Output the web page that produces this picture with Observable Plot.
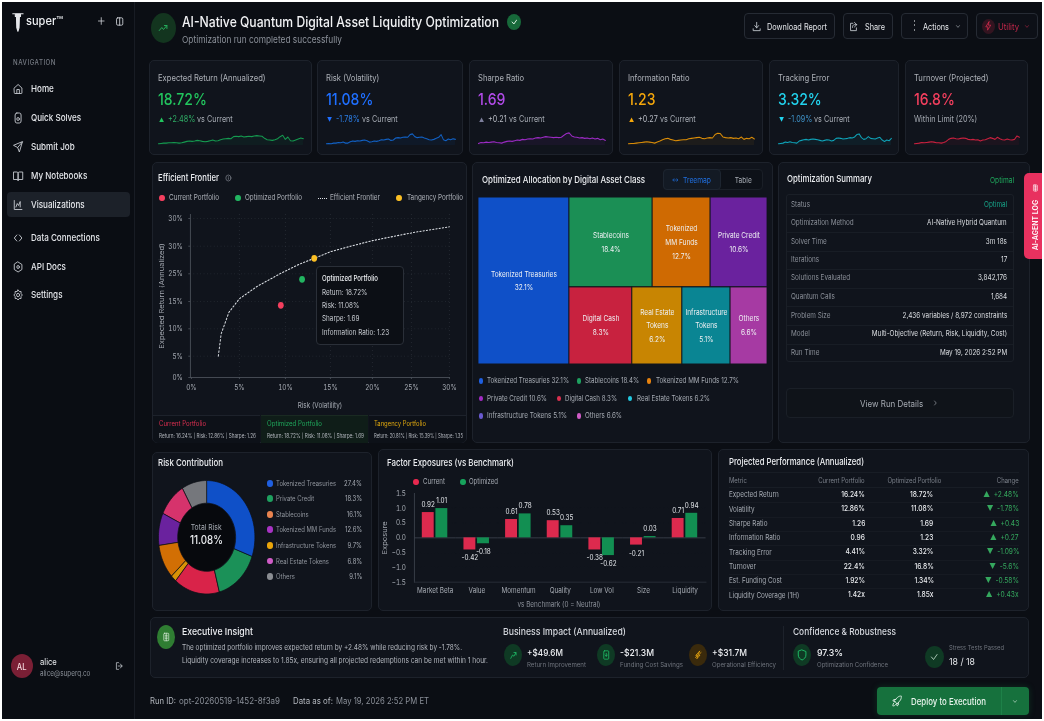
<!DOCTYPE html>
<html><head><meta charset="utf-8">
<style>
html,body{margin:0;padding:0;background:#fff;width:1044px;height:721px;overflow:hidden}
#page{position:absolute;left:0;top:0;width:1044px;height:721px;overflow:hidden;font-family:Inter,"Noto Sans",sans-serif;filter:blur(.45px)}
#page span,#page div,#page svg{position:absolute}
#page span{white-space:nowrap;line-height:1}
</style>
<script src="https://cdn.jsdelivr.net/npm/d3@7"></script>
<script src="https://cdn.jsdelivr.net/npm/@observablehq/plot@0.6"></script>
</head><body><div id="page"></div>
<script>
/* ---------- data ---------- */
const navItems = ["Home","Quick Solves","Submit Job","My Notebooks","Visualizations","Data Connections","API Docs","Settings"];
const kpiTitles = ["Expected Return (Annualized)","Risk (Volatility)","Sharpe Ratio","Information Ratio","Tracking Error","Turnover (Projected)"];
const kpiValues = ["18.72%","11.08%","1.69","1.23","3.32%","16.8%"];
const kpiDeltas = ["+2.48%","-1.78%","+0.21","+0.27","-1.09%",""];
const kpiNotes = ["vs Current","vs Current","vs Current","vs Current","vs Current","Within Limit (20%)"];
const kpiMarks = ["▲","▼","▲","▲","▼",""];
const sparkReturn = [1,2,3,3,4,4,5,4,3,4,6,8,9,8,9,11,10,8,7,8,10,12,9,10,13,15,16,17,16,22,23,22,24,21,22,23,22,24,25,24,23,17,13,12,11,13,16,22,26,14,21,10,9,12,15,18,16];
const sparkRisk = [1,2,1,3,3,5,4,6,3,3,7,9,8,10,9,11,12,10,6,7,9,8,10,13,12,14,15,11,12,18,19,18,20,21,20,28,30,22,19,20,21,18,16,13,12,14,17,20,28,13,10,15,13,16,14];
const sparkSharpe = [2,5,4,6,5,6,7,5,4,3,6,8,9,8,10,12,11,14,13,15,16,15,18,19,18,20,22,21,20,19,20,19,20,26,31,33,24,21,20,18,19,17,18,16,18,15,17,13,15,11];
const sparkInfo = [1,2,2,3,4,5,6,7,6,5,3,6,9,13,16,17,14,12,10,11,12,13,13,16,17,18,19,20,17,16,18,19,18,28,32,31,21,19,18,19,17,18,16,21,14,17,16,20,15];
const sparkTracking = [1,2,3,6,5,7,5,4,3,9,11,13,14,12,14,15,14,13,11,9,11,13,12,9,11,17,18,17,15,16,17,19,18,21,28,30,19,14,16,22,17,16,15,18,20,12,8,12,10,17];
const sparkTurnover = [1,2,3,5,4,5,6,7,6,4,4,3,5,8,14,17,18,16,15,17,18,17,14,13,14,12,13,9,12,13,16,19,17,14,20,16,13,12,15,13,12,14,24,20];

const frontierRisk = [2.8,3.1,3.9,5,6.9,9.4,11.5,13.2,15,17.4,20,22.8,25.8,30];
const frontierReturn = [5,9.1,13,15.5,17.7,20,21.7,22.8,24,25,26,26.8,27.6,28.5];
const portfolioNames = ["Current Portfolio","Optimized Portfolio","Tangency Portfolio"];
const portfolioRisk = [9.5,11.85,13.2];
const portfolioReturn = [14.3,19,22.8];
const portfolioStats = ["Return: 16.24% | Risk: 12.86% | Sharpe: 1.26","Return: 18.72% | Risk: 11.08% | Sharpe: 1.69","Return: 20.81% | Risk: 15.39% | Sharpe: 1.35"];
const frontierTicks = [0,5,10,15,20,25,30];
const frontierYLabels = ["0%","5%","10%","15%","25%","30%","30%"];

const allocNames = ["Tokenized Treasuries","Stablecoins","Tokenized MM Funds","Private Credit","Digital Cash","Real Estate Tokens","Infrastructure Tokens","Others"];
const allocLabels = ["Tokenized Treasuries","Stablecoins","Tokenized\nMM Funds","Private Credit","Digital Cash","Real Estate\nTokens","Infrastructure\nTokens","Others"];
const allocValues = [32.1,18.4,12.7,10.6,8.3,6.2,5.1,6.6];
const allocDrawnArea = [31.5,15.5,10.8,10.6,10.05,8,7.7,5.9];   // cell area as it appears in the picture, %
const allocFills = ["#0f50c8","#1b8f55","#cf6a02","#6a229e","#c8223f","#c88502","#0a8593","#a63aa3"];

const riskNames = ["Tokenized Treasuries","Private Credit","Stablecoins","Tokenized MM Funds","Infrastructure Tokens","Real Estate Tokens","Others"];
const riskValues = ["27.4%","18.3%","16.1%","12.6%","9.7%","6.8%","9.1%"];
const riskDots = ["#1f5fe0","#1ea05f","#e8834f","#a833c4","#eaa50a","#cf5cc6","#8a8d92"];
const ringShares = [30.6,15.3,15.3,1.9,9.7,9.2,9.7,8.3];   // slice sizes as drawn, %
const ringFills = ["#0f50c8","#1b9158","#d92349","#d99206","#d26f04","#6a229e","#d6336c","#75777c"];

const factors = ["Market Beta","Value","Momentum","Quality","Low Vol","Size","Liquidity"];
const factorCurrentBar = [0.855,-0.41,0.62,0.58,-0.41,-0.245,0.655];
const factorOptimizedBar = [0.99,-0.2,0.81,0.41,-0.6,0.045,0.83];
const factorCurrentLabel = ["0.92","-0.42","0.61","0.53","-0.38","-0.21","0.71"];
const factorOptimizedLabel = ["1.01","-0.18","0.78","0.35","-0.62","0.03","0.94"];

const summaryKeys = ["Status","Optimization Method","Solver Time","Iterations","Solutions Evaluated","Quantum Calls","Problem Size","Model","Run Time"];
const summaryVals = ["Optimal","AI-Native Hybrid Quantum","3m 18s","17","3,842,176","1,684","2,436 variables / 8,972 constraints","Multi-Objective (Return, Risk, Liquidity, Cost)","May 19, 2026 2:52 PM"];

const perfMetrics = ["Expected Return","Volatility","Sharpe Ratio","Information Ratio","Tracking Error","Turnover","Est. Funding Cost","Liquidity Coverage (1H)"];
const perfCurrent = ["16.24%","12.86%","1.26","0.96","4.41%","22.4%","1.92%","1.42x"];
const perfOptimized = ["18.72%","11.08%","1.69","1.23","3.32%","16.8%","1.34%","1.85x"];
const perfChange = ["▲\u00a0\u00a0+2.48%","▼\u00a0\u00a0-1.78%","▲\u00a0\u00a0+0.43","▲\u00a0\u00a0+0.27","▼\u00a0\u00a0-1.09%","▼\u00a0\u00a0-5.6%","▼\u00a0\u00a0-0.58%","▲\u00a0\u00a0+0.43x"];

/* ---------- layout helpers ---------- */
const K = 0.85;               // the picture is narrower than it is tall
const page = document.getElementById("page");
const FG = "#eceef1", MUTED = "#8b9099", CARD = "#10141c", LINE = "#1d222b";
function box(x,y,w,h,css=""){const d=document.createElement("div");
  d.style.cssText=`left:${x}px;top:${y}px;width:${w}px;height:${h}px;box-sizing:border-box;${css}`;page.append(d);return d;}
function card(x,y,w,h,css=""){return box(x,y,w,h,`background:${CARD};border:1px solid ${LINE};border-radius:5px;${css}`);}
function T(x,y,s,o={}){const {size=8,color="#d5d8de",w=null,a="l",weight=400,ls=0}=o;
  const e=document.createElement("span");e.textContent=s;
  e.style.cssText=`font-size:${size}px;color:${color};font-weight:${weight};letter-spacing:${ls}px;top:${y-size/2}px;left:0`;
  page.append(e);const ow=e.getBoundingClientRect().width;const sc=w?w/ow:K;
  const left=a=="l"?x:a=="r"?x-ow:x-ow/2;
  e.style.left=left+"px";e.style.transformOrigin=a=="l"?"left center":a=="r"?"right center":"center center";
  e.style.transform=`scaleX(${sc})`;return e;}
function I(cx,cy,size,paths,color="#c8ccd2",sw=2){
  const n="http://www.w3.org/2000/svg",s=document.createElementNS(n,"svg");
  s.setAttribute("viewBox","0 0 24 24");s.setAttribute("preserveAspectRatio","none");
  s.setAttribute("width",size*K);s.setAttribute("height",size);
  s.style.cssText=`left:${cx-size*K/2}px;top:${cy-size/2}px;fill:none;stroke:${color};stroke-width:${sw};stroke-linecap:round;stroke-linejoin:round`;
  s.innerHTML=paths;page.append(s);return s;}
function ell(cx,cy,rx,ry,color,css=""){return box(cx-rx,cy-ry,rx*2,ry*2,`background:${color};border-radius:50%;${css}`);}
function place(make,x,y,w,h,fs=7){const p=make(w/K,h);
  p.style.cssText=`left:${x}px;top:${y}px;width:${w/K}px;height:${h}px;max-width:none;transform:scaleX(${K});transform-origin:0 0;background:transparent;overflow:visible;font-family:Inter,sans-serif;font-size:${fs}px;color:#a6abb3`;
  page.append(p);return p;}

const ICON={
 home:'<path d="M3 10l9-7 9 7v10a1 1 0 0 1-1 1H4a1 1 0 0 1-1-1z"/><path d="M9 21v-8h6v8"/>',
 file:'<rect x="5" y="2" width="14" height="20" rx="4"/><circle cx="12" cy="14" r="3"/>',
 send:'<path d="M22 2L11 13M22 2l-7 20-4-9-9-4z"/>',
 book:'<path d="M2 4h7a3 3 0 0 1 3 3v14a2 2 0 0 0-2-2H2zM22 4h-7a3 3 0 0 0-3 3v14a2 2 0 0 1 2-2h8z"/>',
 viz:'<path d="M3 3v18h18"/><path d="M7 16l3-7 3 4 4-8v11"/>',
 code:'<path d="M9 6l-6 6 6 6M15 6l6 6-6 6"/>',
 hex:'<path d="M12 2l9 5v10l-9 5-9-5V7z"/><circle cx="12" cy="12" r="3"/>',
 gear:'<path d="M12 2l3 3h4v4l3 3-3 3v4h-4l-3 3-3-3H5v-4l-3-3 3-3V5h4z"/><circle cx="12" cy="12" r="3.5"/>',
 trend:'<path d="M3 17l6-6 4 4 8-8M15 7h6v6"/>',
 dl:'<path d="M12 3v12M7 10l5 5 5-5M3 17v4h18v-4"/>',
 share:'<path d="M10 5H4v16h15v-6M14 3l6 5-6 5M20 8h-6a5 5 0 0 0-5 6"/>',
 chev:'<path d="M6 9l6 6 6-6"/>', right:'<path d="M9 6l6 6-6 6"/>',
 bolt:'<path d="M14 2L5 14h6l-1 8 9-12h-6z"/>',
 rocket:'<path d="M5 15c-2 1-3 5-3 7 2 0 6-1 7-3M14 4c3-2 6-2 8-2 0 2 0 5-2 8l-8 8-6-6zM9 9H4l-2 3 5 1M15 15v5l-3 2-1-5"/>',
 shield:'<path d="M12 2l9 3v7c0 5-4 8-9 10-5-2-9-5-9-10V5z"/>',
 check:'<path d="M4 12l6 6L20 6"/>', plus:'<path d="M12 4v16M4 12h16"/>',
 out:'<path d="M10 4H4v16h6M15 7l5 5-5 5M20 12H9"/>',
 note:'<rect x="5" y="3" width="14" height="18" rx="2"/><path d="M9 8h6M9 12h6M9 16h6M12 3v18"/>',
 doc:'<rect x="5" y="2" width="14" height="20" rx="2"/><path d="M12 8v7M9 12l3 3 3-3"/>',
 up:'<path d="M5 20l5-8 4 3 5-8M14 6h6v6"/>', spark:'<path d="M16 3l-5 9h6L8 21l3-8H6z"/><path d="M20 6l-4 3M8 15l-4 3"/>'
};

/* ---------- shell ---------- */
box(2,2,1040,717,"background:#0b0e14");
box(2,2,133,717,"background:#0a0d13;border-right:1px solid #181c24");
// logo + sidebar
I(17.5,22,21,'<path d="M5 2h14M8.5 2h7v3h-1.5l-.5 13-1.5 4-1.5-4-.5-13H8.5z" style="fill:#e6e8ec"/>',"#e6e8ec",1.4);
T(26,22,"super™",{size:11.5,color:FG,w:37,weight:500});
I(101,21,10,ICON.plus,"#d5d8de");I(120,21,11,'<rect x="4" y="4" width="16" height="16" rx="3"/><path d="M12 4v16"/>',"#d5d8de");
T(13,62,"NAVIGATION",{size:7,color:"#777c85",w:43,weight:500,ls:.6});
box(7,192,123,25,"background:#1c2129;border-radius:4px");
const navY=[89,118,147,176,204.5,238,266.5,295];
const navIcons=["home","file","send","book","viz","code","hex","gear"];
navItems.forEach((n,i)=>{I(18.5,navY[i],12,ICON[navIcons[i]],"#c2c6cc");T(31,navY[i],n,{size:9.5,color:"#e4e6ea",weight:500});});
ell(22,666,11,12,"#7a1f35");T(22,666,"AL",{size:9,color:"#f3d7dc",a:"c",weight:500});
T(40,661,"alice",{size:9,color:FG});T(40,674,"alice@superq.co",{size:7.5,color:MUTED});I(119,666,10,ICON.out,"#c2c6cc");

// header
ell(163,28,12.5,15,"#13351f");I(163,28,12,ICON.trend,"#27b45f");
T(182,22,"AI-Native Quantum Digital Asset Liquidity Optimization",{size:14.5,color:"#f2f3f5",w:317,weight:500});
T(182,40,"Optimization run completed successfully",{size:9.5,color:MUTED,w:160});
ell(514,22,7,8,"#17693a");I(514,22,8,ICON.check,"#e6f7ec",3);
const btn="border:1px solid #262b34;border-radius:4px;background:#0d1017";
box(744,13,91,26,btn);I(757,26,11,ICON.dl);T(767,26,"Download Report",{size:9,w:60,color:"#e4e6ea"});
box(843,13,50,26,btn);I(854,26,11,ICON.share);T(865,26,"Share",{size:9,w:20,color:"#e4e6ea"});
box(901,13,67,26,btn);T(912,25,"⋮",{size:12,color:"#e4e6ea",w:5});T(923,26,"Actions",{size:9,w:26,color:"#e4e6ea"});I(958,26,7,ICON.chev);
box(976,13,62,26,btn);ell(988,26,6.5,7.5,"#331420");I(988,26,10,ICON.bolt,"#d92c50");T(998,26,"Utility",{size:9,w:21,color:"#c2274a"});I(1027,26,7,ICON.chev,"#c2274a");

/* ---------- KPI cards ---------- */
const kpiX=[149,317,469,619,769,905], kpiW=[163,146,144,144,130,123];
const sparkX=[158,326,478,628,778,914], sparkW=[145,129,127,126,113,105];
const kpiColors=["#22c55e","#1f6fff","#b14be8","#f5a70b","#22d3ee","#f43f5e"];
const markColors=["#22c55e","#1f6fff","#7d7f9c","#f5a70b","#22d3ee",""];
const deltaColors=["#2fae66","#2b7fe8","#b8bcc4","#b8bcc4","#3f93c9",""];
const lineColors=["#159a4f","#1261c4","#9c2bc4","#d98c08","#0fa3b8","#c9213f"];
const sparks=[sparkReturn,sparkRisk,sparkSharpe,sparkInfo,sparkTracking,sparkTurnover];
kpiTitles.forEach((t,i)=>{
  const x=kpiX[i];card(x,60,kpiW[i],95);
  T(x+9,77,t,{size:9,color:"#aeb2b9"});
  T(x+9,99.5,kpiValues[i],{size:16.5,color:kpiColors[i],weight:500});
  if(kpiMarks[i]){T(x+10,119.5,kpiMarks[i],{size:6,color:markColors[i]});
    const d=T(x+19,119.5,kpiDeltas[i],{size:8.5,color:deltaColors[i]});
    T(x+19+d.getBoundingClientRect().width+2,119.5,kpiNotes[i],{size:8.5,color:"#a6abb3"});
  } else T(x+9,119.5,kpiNotes[i],{size:8.5,color:"#a6abb3"});
  const rows=sparks[i].map((v,j)=>({j,v}));
  place((w,h)=>Plot.plot({width:w,height:h,margin:0,axis:null,
    x:{domain:[0,rows.length-1]},y:{domain:[-4,40]},
    marks:[Plot.areaY(rows,{x:"j",y1:-4,y2:"v",fill:lineColors[i],fillOpacity:.07}),
           Plot.line(rows,{x:"j",y:"v",stroke:lineColors[i],strokeWidth:1.1})]}),sparkX[i],130,sparkW[i],15);
});

/* ---------- efficient frontier ---------- */
card(152,162,315,281);
T(158,178,"Efficient Frontier",{size:9.5,color:FG,w:61,weight:500});
I(228.5,178,8,'<circle cx="12" cy="12" r="9"/><path d="M12 11v5M12 8v.1"/>',"#8b9099");
const legDots=[[162,"#f43f5e"],[237.5,"#22b561"],[399,"#fbbf24"]];
legDots.forEach(([x,c])=>ell(x,198,3,3.4,c));
T(169,198,"Current Portfolio",{size:7.5,w:50,color:"#aeb2b9"});
T(245,198,"Optimized Portfolio",{size:7.5,w:57,color:"#aeb2b9"});
T(330,198,"Efficient Frontier",{size:7.5,w:50,color:"#aeb2b9"});
T(407,198,"Tangency Portfolio",{size:7.5,w:56,color:"#aeb2b9"});
box(318,197.5,9,1,"border-top:1px dotted #dfe2e6");
{const ox=152,oy=205,W=315,H=207,X=p=>(p-ox)/K,Y=p=>p-oy;
 const frontier=frontierRisk.map((r,i)=>({r,v:frontierReturn[i]}));
 const pts=portfolioNames.map((n,i)=>({n,r:portfolioRisk[i],v:portfolioReturn[i]}));
 place((w,h)=>Plot.plot({width:w,height:h,
   marginLeft:X(190),marginRight:(467-449)/K,marginTop:Y(214),marginBottom:oy+H-377,
   x:{type:"linear",domain:frontierTicks,range:[191,239,285,330,372,411,449].map(X)},
   y:{type:"linear",domain:frontierTicks,range:[377,355.7,328.3,301,273.3,245.7,218].map(Y)},
   color:{domain:portfolioNames,range:["#f43f5e","#22b561","#fbbf24"]},
   marks:[
    Plot.gridX(frontierTicks.slice(1),{stroke:"#3a404a",strokeOpacity:.5,strokeDasharray:"1,3"}),
    Plot.gridY(frontierTicks.slice(1),{stroke:"#3a404a",strokeOpacity:.5,strokeDasharray:"1,3"}),
    Plot.axisX({ticks:frontierTicks,tickFormat:d=>d+"%",tickSize:2,tickPadding:5,stroke:"#4a4f58",fill:"#a6abb3",label:"Risk (Volatility)",labelAnchor:"center",labelArrow:"none",labelOffset:31}),
    Plot.axisY({ticks:frontierTicks,tickFormat:d=>frontierYLabels[frontierTicks.indexOf(d)],tickSize:2,tickPadding:7,stroke:"#4a4f58",fill:"#a6abb3",label:"Expected Return (Annualized)",labelAnchor:"center",labelArrow:"none",labelOffset:37}),
    Plot.frame({anchor:"left",stroke:"#4a4f58"}),Plot.frame({anchor:"bottom",stroke:"#4a4f58"}),
    Plot.line(frontier,{x:"r",y:"v",stroke:"#dfe3e8",strokeWidth:1.1,strokeDasharray:"1.6,2.2"}),
    Plot.dot(pts,{x:"r",y:"v",fill:"n",r:3.4,stroke:"none"})
   ]}),ox,oy,W,H,7.5);
}
// tooltip
box(316,266,87.5,78.5,"background:#0c0f15;border:1px solid #2a2f38;border-radius:4px");
const tipLines=["Return: 18.72%","Risk: 11.08%","Sharpe: 1.69","Information Ratio: 1.23"];
T(322,279,"Optimized Portfolio",{size:7.5,w:56,color:FG,weight:500});
tipLines.forEach((s,i)=>T(322,292.5+i*13.3,s,{size:7.5,color:"#c8ccd2"}));
// bottom strip
box(153,415,107,28,"background:#0d1118;border-top:1px solid #1d222b;border-radius:0 0 0 5px");
box(261,415,107,28,"background:#0f1d18;border-top:1px solid #1a2a22");
box(369,415,97,28,"background:#0d1118;border-top:1px solid #1d222b;border-radius:0 0 5px 0");
const stripX=[159,267,374],stripW=[97,97,89],stripC=["#dc2f50","#1fa85c","#e0a80e"];
portfolioNames.forEach((n,i)=>{T(stripX[i],423.5,n,{size:7,color:stripC[i],w:[47,55,52][i]});T(stripX[i],437,portfolioStats[i],{size:5.5,color:"#b3b7be",w:stripW[i]});});

/* ---------- treemap ---------- */
card(472,162,301,281);
T(482,180,"Optimized Allocation by Digital Asset Class",{size:9.5,color:FG,w:163,weight:500});
box(663,169,100,21,"background:#0d1118;border:1px solid #1a1f27;border-radius:4px");
box(663,169,58,21,"background:#131a24;border:1px solid #1d2530;border-radius:4px");
I(675,179.5,8,'<path d="M3 12h18M7 8l-4 4 4 4M17 8l4 4-4 4"/>',"#1f6fe0");
T(683,179.5,"Treemap",{size:8,color:"#1f6fe0",w:28});T(743,179.5,"Table",{size:8,color:"#a6abb3",a:"c",w:17});
{const items=allocNames.map((n,i)=>({name:n,label:allocLabels[i],pct:allocValues[i],value:allocDrawnArea[i],fill:allocFills[i]}));
 const tree={children:[items[0],{children:[{children:items.slice(1,4)},{children:items.slice(4)}]}]};
 const root=d3.treemap().size([1,1]).tile((n,a,b,c,d)=>(n.depth%2?d3.treemapSlice:d3.treemapDice)(n,a,b,c,d))(d3.hierarchy(tree).sum(d=>d.value||0));
 const cells=root.leaves().map(l=>({...l.data,x0:l.x0,x1:l.x1,y0:l.y0,y1:l.y1}));
 place((w,h)=>Plot.plot({width:w,height:h,margin:0,axis:null,x:{domain:[0,1]},y:{domain:[0,1],reverse:true},
  marks:[Plot.rect(cells,{x1:"x0",x2:"x1",y1:"y0",y2:"y1",fill:"fill",stroke:"#10141c",strokeWidth:1}),
         Plot.text(cells,{x:d=>(d.x0+d.x1)/2,y:d=>(d.y0+d.y1)/2,dy:-2,text:d=>d.label+"\n"+d.pct.toFixed(1)+"%",fill:"#eef0f3",fontSize:7.7,lineHeight:1.8})]}),478,197,289,167,8);
}
const allocLegend=[[481,487,381,0,82],[579,585,381,1,54],[649,656,381,2,83],[481,487,398.5,3,60],[559,565,398.5,4,52],[630,637,398.5,5,73],[481,487,416,6,80],[579,585,416,7,37]];
const allocDots=["#1f5fe0","#1ea05f","#e8830f","#a32bc4","#d9304f","#22c8e0","#6a5ad0","#cf5cc6"];
allocLegend.forEach(([dx,tx,y,i,w])=>{ell(dx,y,2.4,2.8,allocDots[i]);T(tx,y,`${allocNames[i]} ${allocValues[i]}%`,{size:7.5,color:"#a6abb3",w});});

/* ---------- summary ---------- */
card(778,162,252,281);
T(787,178.5,"Optimization Summary",{size:9.5,color:FG,w:85,weight:500});
T(1014,179.5,"Optimal",{size:8,color:"#1fa85c",a:"r",w:24});
box(786,194,228,168,"border:1px solid #1a1f27;border-radius:3px");
const sumY=[204.3,222.7,241.3,259.7,278,296.7,315.3,334,352.7];
summaryKeys.forEach((k,i)=>{
  if(i)box(787,sumY[i]-9.2,226,1,"background:#181d25");
  T(791,sumY[i],k,{size:7.5,color:"#8b9099"});
  T(1007,sumY[i],summaryVals[i],{size:7.5,color:i?"#dcdfe3":"#17a589",a:"r"});
});
box(786,388,228,30,"background:#0f1319;border:1px solid #1a1f27;border-radius:4px");
T(892,403,"View Run Details",{size:9,color:"#a6abb3",a:"c",w:63});I(935,403,8,ICON.right,"#a6abb3");
box(1024,173,18,86,"background:#e8315f;border-radius:5px 0 0 5px");
{const e=document.createElement("span");e.textContent="AI-AGENT LOG";
 e.style.cssText="font-size:7px;color:#fff;font-weight:600;left:1035px;top:225px;transform:translate(-50%,-50%) rotate(-90deg)";page.append(e);}
I(1035,188,8,ICON.note,"#fff");

/* ---------- risk contribution ---------- */
card(152,452,220,159);
T(158,463,"Risk Contribution",{size:9.5,color:FG,w:65,weight:500});
ell(206.3,537,29,34,"#07090d");
{const polys=[];let a=0;
 ringShares.forEach((s,i)=>{const a0=a,a1=a+s/100*2*Math.PI;a=a1;const pts=[];
   const n=Math.max(2,Math.ceil(s*1.5));
   for(let j=0;j<=n;j++){const t=a0+(a1-a0)*j/n;pts.push({i,x:Math.sin(t),y:Math.cos(t)});}
   for(let j=n;j>=0;j--){const t=a0+(a1-a0)*j/n;pts.push({i,x:.6*Math.sin(t),y:.6*Math.cos(t)});}
   polys.push(...pts);});
 place((w,h)=>Plot.plot({width:w,height:h,margin:0,axis:null,x:{domain:[-1,1]},y:{domain:[-1,1]},
   marks:[Plot.line(polys,{x:"x",y:"y",z:"i",curve:"linear-closed",fill:d=>ringFills[d.i],stroke:"#0d1017",strokeWidth:.8})]}),158,480,96.5,113.5);
}
T(206.6,527,"Total Risk",{size:8,color:"#a6abb3",a:"c"});
T(206.6,541,"11.08%",{size:11.5,color:FG,a:"c",weight:500});
const riskY=[483.3,498.7,514.3,529.7,545.3,561,576.7];
riskNames.forEach((n,i)=>{ell(270,riskY[i],2.9,3.3,riskDots[i]);T(276,riskY[i],n,{size:7,color:"#8f949c"});T(362,riskY[i],riskValues[i],{size:7,color:"#a6abb3",a:"r"});});

/* ---------- factor exposures ---------- */
card(378,449,334,162);
T(387,463,"Factor Exposures (vs Benchmark)",{size:9.5,color:FG,w:127,weight:500});
ell(416,482,2.9,3.3,"#e8294f");T(423,482,"Current",{size:7.5,color:"#a6abb3",w:22});
ell(462.7,482,2.9,3.3,"#17a35c");T(469,482,"Optimized",{size:7.5,color:"#a6abb3",w:29});
{const rows=factors.flatMap((f,i)=>[
   {f,s:"Current",v:factorCurrentBar[i],t:factorCurrentLabel[i]},
   {f,s:"Optimized",v:factorOptimizedBar[i],t:factorOptimizedLabel[i]}]);
 place((w,h)=>Plot.plot({width:w,height:h,marginLeft:(413-380)/K,marginRight:(710-706.6)/K,marginTop:8,marginBottom:16.3,
   fx:{domain:factors,padding:0,label:null,axis:null},
   x:{domain:["Current","Optimized"],axis:null,paddingInner:.095,paddingOuter:.55},
   y:{domain:[-1.5,1.5],ticks:6},
   color:{domain:["Current","Optimized"],range:["#dd2a4e","#128f52"]},
   marks:[
    Plot.gridY([-1,-.5,.5,1],{stroke:"#262b34",strokeDasharray:"1,3"}),
    Plot.axisFx({anchor:"bottom",tickSize:0,tickPadding:5.5,fill:"#a6abb3",label:null}),
    Plot.axisY({ticks:[-1.5,-1,-.5,0,.5,1,1.5],tickFormat:d3.format(".1f"),tickSize:0,tickPadding:10,fill:"#a6abb3",label:"Exposure",labelAnchor:"center",labelArrow:"none",labelOffset:38}),
    Plot.ruleY([0],{stroke:"#3a404a"}),
    Plot.barY(rows,{fx:"f",x:"s",y:"v",fill:"s"}),
    Plot.text(rows.filter(d=>d.v>=0),{fx:"f",x:"s",y:"v",text:"t",dy:-8,fill:"#dfe2e6",fontSize:7.5}),
    Plot.text(rows.filter(d=>d.v<0),{fx:"f",x:"s",y:"v",text:"t",dy:8,fill:"#dfe2e6",fontSize:7.5}),
    Plot.frame({anchor:"left",stroke:"#3a404a",facet:"super"}),
    Plot.frame({anchor:"bottom",stroke:"#2a2f38",facet:"super"})
   ]}),380,485,330,113,7.5);
}
T(559,605,"vs Benchmark (0 = Neutral)",{size:7.5,color:"#8b9099",a:"c",w:83});

/* ---------- projected performance ---------- */
card(718,449,311,162);
T(729,462,"Projected Performance (Annualized)",{size:9.5,color:FG,w:135,weight:500});
box(729,472,290,1,"background:#181d25");box(729,487,290,1,"background:#181d25");
T(729,480,"Metric",{size:7,color:"#7b808a"});T(865,480,"Current Portfolio",{size:7,color:"#7b808a",a:"r"});
T(941,480,"Optimized Portfolio",{size:7,color:"#7b808a",a:"r"});T(1019,480,"Change",{size:7,color:"#7b808a",a:"r"});
const perfY=[495,509.3,523.7,538,552.3,566.7,581,595.3];
perfMetrics.forEach((m,i)=>{
  if(i)box(729,perfY[i]-7.2,290,1,"background:#161a22");
  T(729,perfY[i],m,{size:7.5,color:"#a6abb3"});
  T(865,perfY[i],perfCurrent[i],{size:7.8,color:FG,a:"r",weight:500});
  T(933.7,perfY[i],perfOptimized[i],{size:7.8,color:FG,a:"r",weight:500});
  T(1019,perfY[i],perfChange[i],{size:7.8,color:"#35a85e",a:"r"});
});

/* ---------- bottom band ---------- */
card(150,617,879,61);
ell(166,637,9,12,"#2f7d32");I(166,637,10,ICON.note,"#d8ead8",1.8);
T(182,632,"Executive Insight",{size:9.5,color:FG,w:71,weight:500});
T(182,648,"The optimized portfolio improves expected return by +2.48% while reducing risk by -1.78%.",{size:7.5,color:"#b3b7be",w:280});
T(182,660.5,"Liquidity coverage increases to 1.85x, ensuring all projected redemptions can be met within 1 hour.",{size:7.5,color:"#b3b7be",w:306});
T(503,632,"Business Impact (Annualized)",{size:9.5,color:"#d5d8de",w:123,weight:500});
[[513,"#0f3a24","up","#1fc06a","+$49.6M",527,36,"Return Improvement",59],
 [606,"#0f3a24","doc","#1fc06a","-$21.3M",620,34,"Funding Cost Savings",63],
 [698,"#3a2a0c","spark","#eeaa10","+$31.7M",712,35,"Operational Efficiency",64]].forEach(([cx,bg,ic,c,v,x,w,l,lw])=>{
  ell(cx,655,9,11,bg);I(cx,655,10,ICON[ic],c);
  T(x,653,v,{size:9.5,color:FG,w,weight:500});T(x,665,l,{size:6.5,color:"#6f747d",w:lw});
});
box(783,626,1,44,"background:#1d222b");
T(793,632,"Confidence & Robustness",{size:9.5,color:"#d5d8de",w:103,weight:500});
ell(802,655,9,11,"#0f3a24");I(802,655,12,ICON.shield,"#1fc06a");
T(817,653,"97.3%",{size:9.5,color:FG,w:26,weight:500});T(817,665,"Optimization Confidence",{size:6.5,color:"#6f747d",w:71});
ell(934,657,9.5,11,"#0f3a24");I(934,657,10,ICON.check,"#cfe9d8");
T(949,648,"Stress Tests Passed",{size:6.5,color:"#6f747d",w:55});T(949,662,"18 / 18",{size:9.5,color:FG,w:26});

/* ---------- footer ---------- */
T(150,701,"Run ID:",{size:8.5,color:"#b3b7be",w:26});T(179,701,"opt-20260519-1452-8f3a9",{size:8.5,color:"#8b9099",w:101});
T(293,701,"Data as of:",{size:8.5,color:"#b3b7be",w:40});T(336,701,"May 19, 2026 2:52 PM ET",{size:8.5,color:"#8b9099",w:93});
box(877,687,152,28,"background:#16713d;border-radius:4px;box-shadow:0 0 6px #16713d55");
box(1001,687,1,28,"background:#1d8148");
I(897,701,12,ICON.rocket,"#e8f4ec",1.8);T(911,701.5,"Deploy to Execution",{size:9.5,color:"#e8f4ec",w:75,weight:500});I(1015,701,7,ICON.chev,"#e8f4ec");
</script></body></html>
